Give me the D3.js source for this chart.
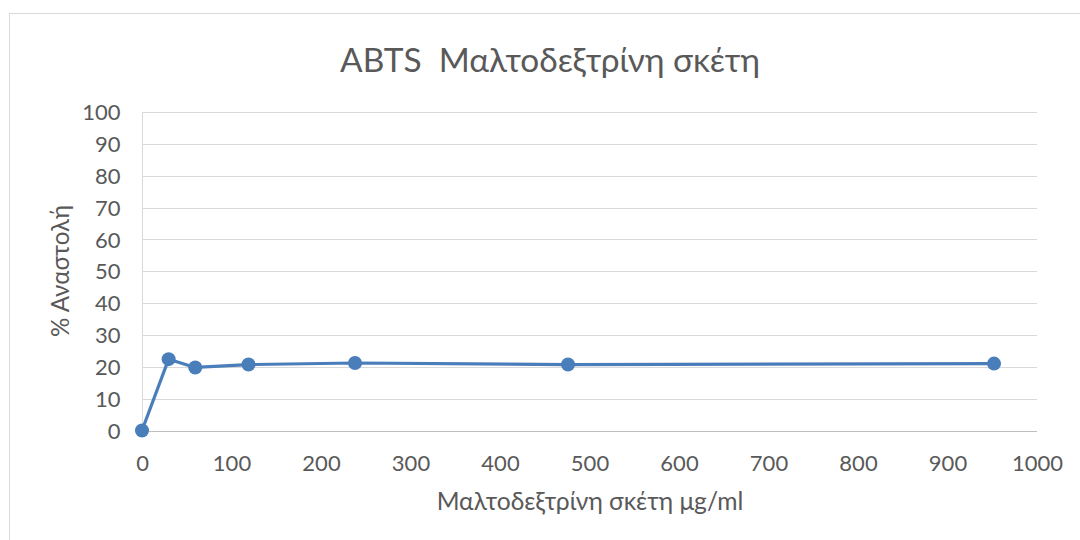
<!DOCTYPE html>
<html><head><meta charset="utf-8">
<script src="https://cdn.jsdelivr.net/npm/d3@7"></script>
<style>body{margin:0;background:#fff}svg{display:block}text{font-family:Lato,"Open Sans",sans-serif;fill:#595959}</style>
</head><body>
<svg id="c" width="1080" height="540"></svg>
<script>
const concentrations = [0, 29.75, 59.5, 119, 238, 476, 952];
const inhibition = [0, 22.4, 19.8, 20.7, 21.2, 20.7, 21.0];
const xTicks = [0,100,200,300,400,500,600,700,800,900,1000];
const yTicks = [0,10,20,30,40,50,60,70,80,90,100];
const titleText = "ABTS  Μαλτοδεξτρίνη σκέτη";
const xTitle = "Μαλτοδεξτρίνη σκέτη μg/ml";
const yTitle = "% Αναστολή";

const svg = d3.select("#c");
svg.append("rect").attr("x",9.5).attr("y",13.5).attr("width",1100).attr("height",560)
  .attr("fill","#fff").attr("stroke","#d9d9d9");

const x = d3.scaleLinear().domain([0,1000]).range([142,1037]);
const y = d3.scaleLinear().domain([0,100]).range([430.5,112]);

// gridlines
svg.append("g").selectAll("line").data(yTicks.filter(d=>d>0)).join("line")
  .attr("x1",x(0)).attr("x2",x(1000))
  .attr("y1",d=>Math.round(y(d))+0.5).attr("y2",d=>Math.round(y(d))+0.5)
  .attr("stroke","#d9d9d9").attr("stroke-width",1);

// axes
const yAxis = d3.axisLeft(y).tickValues(yTicks).tickFormat(d3.format("d")).tickSize(0).tickPadding(22);
const gy = svg.append("g").attr("transform",`translate(${x(0)+0.5},0)`).call(yAxis);
gy.select(".domain").attr("stroke","#d9d9d9").attr("d",`M0,${y(100)}V${y(0)}`);
gy.selectAll("text").style("font-size","22px").attr("fill","#595959").attr("dy","0.35em");

const xAxis = d3.axisBottom(x).tickValues(xTicks).tickFormat(d3.format("d")).tickSize(0);
const gx = svg.append("g").attr("transform",`translate(0,${Math.round(y(0))+0.5})`).call(xAxis);
gx.select(".domain").attr("stroke","#bfbfbf").attr("d",`M${x(0)},0H${x(1000)}`);
gx.selectAll("text").style("font-size","22px").attr("fill","#595959")
  .attr("y",39).attr("dy",null);

function fit(sel, target){
  const w = sel.node().getComputedTextLength();
  const fs = parseFloat(sel.style("font-size"));
  sel.style("font-size",(fs*target/w)+"px");
}

const t = svg.append("text").attr("x",550).attr("y",72).attr("text-anchor","middle")
  .style("white-space","pre").attr("xml:space","preserve")
  .style("font-size","30px").text(titleText);
fit(t, 420);

const xt = svg.append("text").attr("x",590).attr("y",510).attr("text-anchor","middle")
  .style("font-size","22px").text(xTitle);
fit(xt, 307);

const yt = svg.append("text").attr("transform","translate(69,271) rotate(-90)").attr("text-anchor","middle")
  .style("font-size","22px").text(yTitle);
fit(yt, 132);

const data = concentrations.map((c,i)=>({c, v:inhibition[i]}));
const line = d3.line().x(d=>x(d.c)).y(d=>y(d.v));
svg.append("path").datum(data).attr("d",line).attr("fill","none")
  .attr("stroke","#4a7ebb").attr("stroke-width",3.2).attr("stroke-linejoin","round");
svg.append("g").selectAll("circle").data(data).join("circle")
  .attr("cx",d=>x(d.c)).attr("cy",d=>y(d.v)).attr("r",7).attr("fill","#4a7ebb");
</script>
</body></html>
